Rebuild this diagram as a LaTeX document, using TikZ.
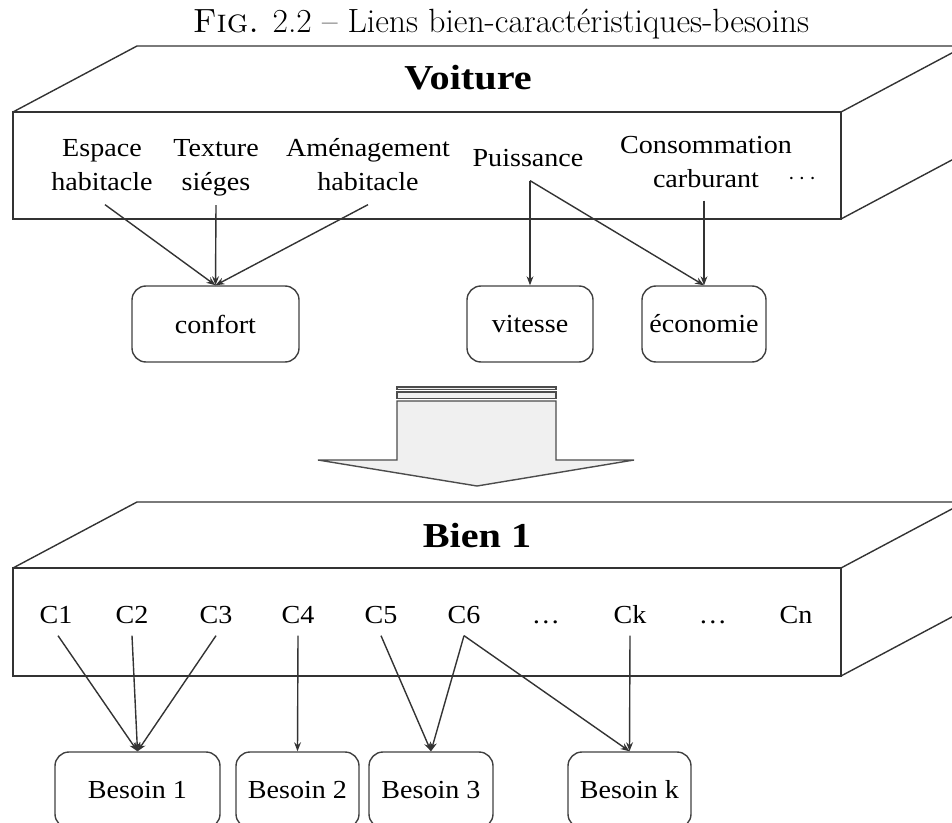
\documentclass[tikz,border=0pt]{standalone}
\usepackage{fontspec}
\newfontfamily\tnr[FakeStretch=1.08]{Liberation Serif}
\newfontfamily\tnrb[FakeStretch=1.15]{Liberation Serif}
\usetikzlibrary{arrows.meta}
\begin{document}
\begin{tikzpicture}[x=0.5pt,y=-0.5pt,
  edge/.style={draw=black!80, line width=0.7pt},
  arr/.style={edge, -{Stealth[length=4.5pt,width=3.4pt]}},
  lbl/.style={font=\tnr\fontsize{13}{17}\selectfont, inner sep=0pt, align=center, anchor=base},
  ttl/.style={font=\tnrb\fontsize{17.5}{20}\selectfont\bfseries, inner sep=0pt, anchor=base},
  need/.style={draw=black!75, line width=0.7pt, rounded corners=7pt, inner sep=0pt,
    font=\tnr\fontsize{13}{17}\selectfont, minimum height=38pt},
  solid3d/.style={draw=black!80, line width=0.7pt, line join=miter}
]
\useasboundingbox (0,0) rectangle (952,823);
\clip (0,0) rectangle (952,823);

% caption
\node[anchor=base, inner sep=0pt, font=\fontsize{16.8}{20}\selectfont] (cap) at (501,33)
  {\textsc{Fig.} 2.2 -- Liens bien-caract\'eristiques-besoins};

% ---------- top box : Voiture ----------
\path[solid3d] (13,112) rectangle (841,219);
\path[solid3d] (13,112) -- (137,46) -- (965,46) -- (841,112);
\path[solid3d] (841,219) -- (965,153) -- (965,46);
\node[ttl] (voiture) at (468,90) {Voiture};

\node[lbl] (esp)  at (102,191) {Espace\\habitacle};
\node[lbl] (tex)  at (216,191) {Texture\\si\'eges};
\node[lbl] (amen) at (368,191) {Am\'enagement\\habitacle};
\node[lbl] (puis) at (528,167) {Puissance};
\node[lbl] (cons) at (706,188) {Consommation\\carburant};
\node[lbl] (dots1) at (802,185) {$\cdots$};

\node[need, minimum width=83.5pt] (confort) at (215.5,324) {confort};
\node[need, minimum width=63pt]   (vitesse) at (530,324) {vitesse};
\node[need, minimum width=62pt]   (eco)     at (704,324) {\'economie};

\draw[arr] ([xshift=1.5pt,yshift=-6.5pt]esp.south) -- (confort.north);
\draw[arr] ([yshift=-4pt]tex.south) -- (confort.north);
\draw[arr] ([yshift=-6.5pt]amen.south) -- (confort.north);
\draw[arr] ([xshift=1pt,yshift=-6.5pt]puis.south) -- (vitesse.north);
\draw[arr] ([xshift=1pt,yshift=-6.5pt]puis.south) -- (eco.north);
\draw[arr] ([xshift=-1pt,yshift=-6pt]cons.south) -- (eco.north);

% ---------- big arrow ----------
\path[draw=black!70, fill=black!6, line width=0.7pt]
  (397,387) rectangle (556,389.5);
\path[draw=black!70, fill=black!6, line width=0.7pt]
  (397,392) rectangle (556,398.5);
\path[draw=black!70, fill=black!6, line width=0.7pt, line join=miter]
  (397,401) -- (397,460) -- (318,460) -- (477,486) -- (634,460) -- (556,460) -- (556,401) -- cycle;

% ---------- bottom box : Bien 1 ----------
\path[solid3d] (13,568) rectangle (841,676);
\path[solid3d] (13,568) -- (137,502) -- (965,502) -- (841,568);
\path[solid3d] (841,676) -- (965,610) -- (965,502);
\node[ttl] (bien) at (477,547) {Bien 1};

\node[lbl] (c1) at (56,623) {C1};
\node[lbl] (c2) at (132,623) {C2};
\node[lbl] (c3) at (216,623) {C3};
\node[lbl] (c4) at (298,623) {C4};
\node[lbl] (c5) at (381,623) {C5};
\node[lbl] (c6) at (464,623) {C6};
\node[lbl] (d2) at (546,623) {\dots};
\node[lbl] (ck) at (630,623) {Ck};
\node[lbl] (d3) at (713,623) {\dots};
\node[lbl] (cn) at (796,623) {Cn};

\node[need, minimum width=82.5pt] (b1) at (137.5,790) {Besoin 1};
\node[need, minimum width=61.5pt] (b2) at (297.5,790) {Besoin 2};
\node[need, minimum width=62pt]   (b3) at (431,790) {Besoin 3};
\node[need, minimum width=61.5pt] (bk) at (629.5,790) {Besoin k};

\draw[arr] ([xshift=1pt,yshift=-6pt]c1.south) -- (b1.north);
\draw[arr] ([yshift=-6pt]c2.south) -- (b1.north);
\draw[arr] ([yshift=-6pt]c3.south) -- (b1.north);
\draw[arr] ([yshift=-6pt]c4.south) -- (b2.north);
\draw[arr] ([yshift=-6pt]c5.south) -- (b3.north);
\draw[arr] ([yshift=-6pt]c6.south) -- (b3.north);
\draw[arr] ([yshift=-6pt]c6.south) -- (bk.north);
\draw[arr] ([yshift=-6pt]ck.south) -- (bk.north);
\end{tikzpicture}
\end{document}
